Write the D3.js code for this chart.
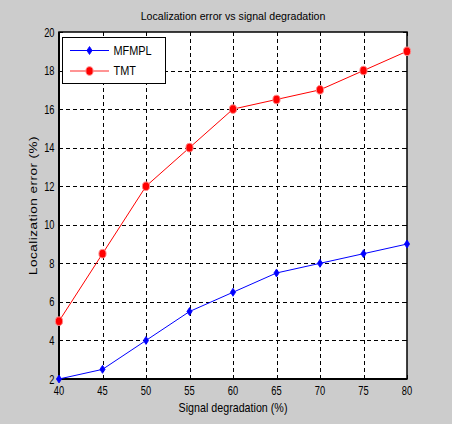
<!DOCTYPE html>
<html><head><meta charset="utf-8">
<script src="https://cdn.jsdelivr.net/npm/d3@7/dist/d3.min.js"></script>
<style>
html,body{margin:0;padding:0;background:#cccccc;}
svg{display:block;}
text{font-family:"Liberation Sans",Arial,Helvetica,sans-serif;fill:#000;}
</style></head>
<body>
<svg id="chart" width="452" height="424"></svg>
<script>
const xValues = [40, 45, 50, 55, 60, 65, 70, 75, 80];
const mfmpl = [2, 2.5, 4, 5.5, 6.5, 7.5, 8, 8.5, 9];
const tmt = [5, 8.5, 12, 14, 16, 16.5, 17, 18, 19];
const xTicks = [40, 45, 50, 55, 60, 65, 70, 75, 80];
const yTicks = [2, 4, 6, 8, 10, 12, 14, 16, 18, 20];
const seriesNames = ["MFMPL", "TMT"];
const titleText = "Localization error vs signal degradation";
const xLabelText = "Signal degradation (%)";
const yLabelText = "Localization error (%)";

const svg = d3.select("#chart");
const W = 452, H = 424;
svg.append("rect").attr("width", W).attr("height", H).attr("fill", "#cccccc");

const L = 59, R = 407, T = 32, B = 379;
const x = d3.scaleLinear().domain([40, 80]).range([L, R]);
const y = d3.scaleLinear().domain([2, 20]).range([B, T]);

// plot background
svg.append("rect").attr("x", L).attr("y", T).attr("width", R - L).attr("height", B - T).attr("fill", "#fff");

// grid
const grid = svg.append("g").attr("stroke", "#000").attr("stroke-width", 1).attr("stroke-dasharray", "4,3");
grid.selectAll(".gx").data(xTicks.slice(1, -1)).join("line")
  .attr("x1", d => Math.round(x(d)) + 0.5).attr("x2", d => Math.round(x(d)) + 0.5)
  .attr("y1", T).attr("y2", B);
grid.selectAll(".gy").data(yTicks.slice(1, -1)).join("line")
  .attr("y1", d => Math.round(y(d)) + 0.5).attr("y2", d => Math.round(y(d)) + 0.5)
  .attr("x1", L).attr("x2", R);

// inner ticks
const tk = svg.append("g").attr("stroke", "#000").attr("stroke-width", 1);
xTicks.forEach(d => {
  const xx = Math.round(x(d)) + 0.5;
  tk.append("line").attr("x1", xx).attr("x2", xx).attr("y1", B).attr("y2", B - 4);
  tk.append("line").attr("x1", xx).attr("x2", xx).attr("y1", T).attr("y2", T + 4);
});
yTicks.forEach(d => {
  const yy = Math.round(y(d)) + 0.5;
  tk.append("line").attr("x1", L).attr("x2", L + 4).attr("y1", yy).attr("y2", yy);
  tk.append("line").attr("x1", R).attr("x2", R - 4).attr("y1", yy).attr("y2", yy);
});

// axes box
svg.append("rect").attr("x", L).attr("y", T).attr("width", R - L).attr("height", B - T)
  .attr("fill", "none").attr("stroke", "#000").attr("stroke-width", 1.5);
svg.append("line").attr("x1", L).attr("x2", L).attr("y1", T).attr("y2", B).attr("stroke", "#000").attr("stroke-width", 2);
svg.append("line").attr("x1", L).attr("x2", R).attr("y1", B).attr("y2", B).attr("stroke", "#000").attr("stroke-width", 2);

// helper: horizontally condensed text
function ctext(g, str, px, py, size, sx, anchor) {
  const gg = g.append("g").attr("transform", `translate(${px},${py}) scale(${sx},1)`);
  gg.append("text").attr("x", 0).attr("y", 0).attr("font-size", size)
    .attr("text-anchor", anchor).text(str);
  return gg;
}

// tick labels
const lab = svg.append("g");
xTicks.forEach(d => ctext(lab, String(d), x(d), 395, 12.6, 0.74, "middle"));
yTicks.forEach(d => ctext(lab, String(d), 54.5, y(d) + 4.5, 12.6, 0.74, "end"));

// title & labels
ctext(svg, titleText, (L + R) / 2, 19.5, 11.8, 0.9, "middle");
ctext(svg, xLabelText, (L + R) / 2, 411.8, 12.6, 0.85, "middle");
svg.append("g").attr("transform", `translate(36.5,${(T + B) / 2}) rotate(-90) scale(1,0.78)`)
  .append("text").attr("font-size", 13.5).attr("text-anchor", "middle")
  .attr("letter-spacing", 0.5).text(yLabelText);

// series
const pts = (arr) => xValues.map((v, i) => [x(v), y(arr[i])]);
const line = d3.line();
svg.append("path").attr("d", line(pts(tmt))).attr("fill", "none").attr("stroke", "#ff0000").attr("stroke-width", 1);
svg.append("path").attr("d", line(pts(mfmpl))).attr("fill", "none").attr("stroke", "#0000ff").attr("stroke-width", 1);

function circleMarker(g, cx, cy) {
  g.append("ellipse").attr("cx", cx).attr("cy", cy).attr("rx", 3.6).attr("ry", 4.3)
    .attr("fill", "#ff0000").attr("stroke", "#ff8a8a").attr("stroke-width", 1);
}
function diamondMarker(g, cx, cy) {
  g.append("path").attr("d", `M${cx},${cy - 4}L${cx + 2.6},${cy}L${cx},${cy + 4}L${cx - 2.6},${cy}Z`)
    .attr("fill", "#0000ff").attr("stroke", "#0000ff").attr("stroke-width", 0.8);
}
const mk = svg.append("g");
pts(tmt).forEach(p => circleMarker(mk, p[0], p[1]));
pts(mfmpl).forEach(p => diamondMarker(mk, p[0], p[1]));

// legend
const lg = svg.append("g");
lg.append("rect").attr("x", 62.5).attr("y", 37.5).attr("width", 103).attr("height", 46)
  .attr("fill", "#fff").attr("stroke", "#000").attr("stroke-width", 1);
const legY = [50.5, 71];
const colors = ["#0000ff", "#ff0000"];
seriesNames.forEach((nm, i) => {
  lg.append("line").attr("x1", 70).attr("x2", 109).attr("y1", legY[i]).attr("y2", legY[i])
    .attr("stroke", i === 1 ? "#ff7070" : colors[i]).attr("stroke-width", i === 1 ? 1.5 : 1);
  if (i === 0) diamondMarker(lg, 89.5, legY[i]); else circleMarker(lg, 89.5, legY[i]);
  ctext(lg, nm, 113.5, legY[i] + 4.3, 12.1, 0.9, "start");
});
</script>
</body></html>
